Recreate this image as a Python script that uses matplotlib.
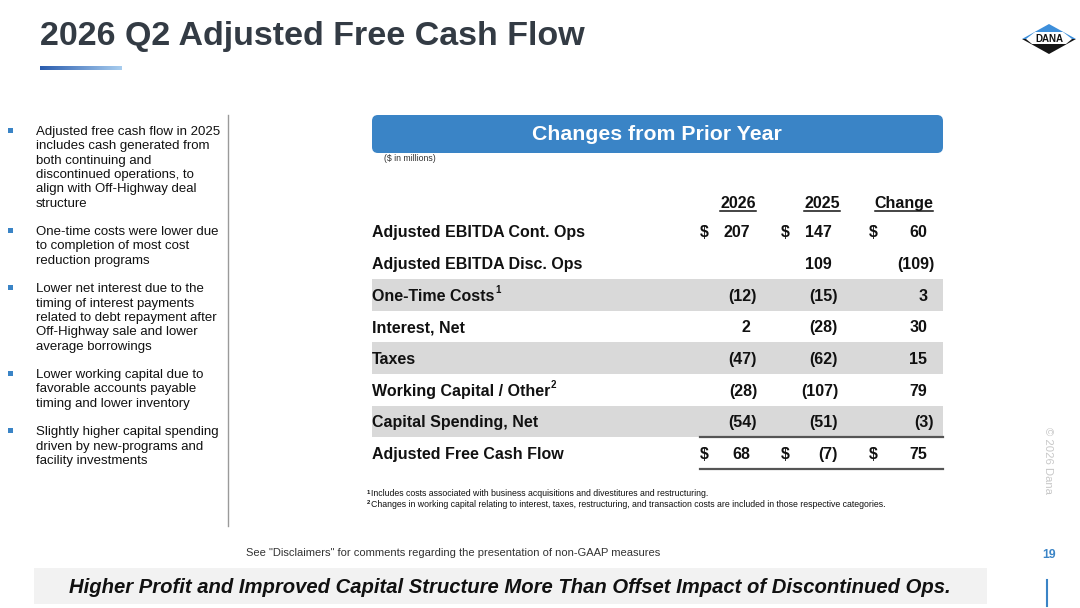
import matplotlib
matplotlib.use("Agg")
import matplotlib.pyplot as plt
from matplotlib.patches import FancyBboxPatch, Rectangle, Polygon
from matplotlib.colors import LinearSegmentedColormap
import numpy as np

# ---------------- data ----------------
title = "2026 Q2 Adjusted Free Cash Flow"
header = "Changes from Prior Year"
units = "($ in millions)"
col_headers = ["2026", "2025", "Change"]
row_labels = ["Adjusted EBITDA Cont. Ops", "Adjusted EBITDA Disc. Ops", "One-Time Costs",
              "Interest, Net", "Taxes", "Working Capital / Other", "Capital Spending, Net",
              "Adjusted Free Cash Flow"]
row_sup = ["", "", "1", "", "", "2", "", ""]
vals_2026 = [207, None, -12, 2, -47, -28, -54, 68]
vals_2025 = [147, 109, -15, -28, -62, -107, -51, -7]
vals_change = [60, -109, 3, 30, 15, 79, -3, 75]
dollar_rows = [0, 7]
shaded_rows = [2, 4, 6]
bullets = [
    ["Adjusted free cash flow in 2025", "includes cash generated from", "both continuing and",
     "discontinued operations, to", "align with Off-Highway deal", "structure"],
    ["One-time costs were lower due", "to completion of most cost", "reduction programs"],
    ["Lower net interest due to the", "timing of interest payments", "related to debt repayment after",
     "Off-Highway sale and lower", "average borrowings"],
    ["Lower working capital due to", "favorable accounts payable", "timing and lower inventory"],
    ["Slightly higher capital spending", "driven by new-programs and", "facility investments"],
]
footnotes = [("1", "Includes costs associated with business acquisitions and divestitures and restructuring."),
             ("2", "Changes in working capital relating to interest, taxes, restructuring, and transaction costs are included in those respective categories.")]
disclaimer = 'See "Disclaimers" for comments regarding the presentation of non-GAAP measures'
banner = "Higher Profit and Improved Capital Structure More Than Offset Impact of Discontinued Ops."
page_num = "19"
copyright_txt = "© 2026 Dana"

# ---------------- style ----------------
FONT = ["Liberation Sans", "DejaVu Sans"]
plt.rcParams["font.family"] = FONT
DARK = "#333b44"
BLUE = "#3a84c6"
INK = "#111111"

fig = plt.figure(figsize=(10.8, 6.08), dpi=100)
ax = fig.add_axes([0, 0, 1, 1])
ax.set_xlim(0, 1080)
ax.set_ylim(608, 0)
ax.axis("off")
fig.canvas.draw()
r = fig.canvas.get_renderer()
inv = ax.transData.inverted()


def xextent(t):
    bb = t.get_window_extent(r)
    (x0, _), (x1, _) = inv.transform([[bb.x0, 0], [bb.x1, 0]])
    return x0, x1


# title
ax.text(40, 45.5, title, fontsize=24.5, fontweight="bold", color=DARK, va="baseline", ha="left")
grad = np.linspace(0, 1, 256).reshape(1, -1)
cm = LinearSegmentedColormap.from_list("g", ["#2a5cae", "#a8cdef"])
ax.imshow(grad, extent=[40, 122, 70, 66], cmap=cm, aspect="auto", zorder=2)

# logo
cx, cy, hw, hh = 1049, 39, 27, 15
ax.add_patch(Polygon([[cx - hw, cy], [cx, cy - hh], [cx + hw, cy]], closed=True, color="#3d8fdb", lw=0))
ax.add_patch(Polygon([[cx - hw, cy], [cx, cy + hh], [cx + hw, cy]], closed=True, color="#151515", lw=0))
ax.add_patch(Polygon([[cx - 14, cy - 7], [cx + 14, cy - 7], [cx + 23, cy], [cx + 17, cy + 5],
                      [cx - 17, cy + 5], [cx - 23, cy]], closed=True, color="white", lw=0))
ax.text(cx, cy + 3.2, "DANA", fontsize=7, fontweight="bold", color=INK, ha="center", va="baseline")

# left bullets
line_h = 14.3
y = 135
for para in bullets:
    ax.add_patch(Rectangle((8, y - 7), 4.5, 4.5, color=BLUE, lw=0))
    for ln in para:
        ax.text(36, y, ln, fontsize=9.5, color=INK, va="baseline", ha="left")
        y += line_h
    y += line_h
ax.plot([228, 228], [115, 526], color="#9a9a9a", lw=1)

# header box
ax.add_patch(FancyBboxPatch((372, 115), 571, 38, boxstyle="round,pad=0,rounding_size=6",
                            fc=BLUE, ec="none"))
ax.text(657, 140.5, header, fontsize=15.3, fontweight="bold", color="white", ha="center", va="baseline")
ax.text(384, 161, units, fontsize=6.3, color="#333333", ha="left", va="baseline")

# column headers
FS = 11.5
col_centers = [738, 822, 904]
for c, h in zip(col_centers, col_headers):
    t = ax.text(c, 208, h, fontsize=FS, fontweight="bold", color=INK, ha="center", va="baseline")
    x0, x1 = xextent(t)
    ax.plot([x0, x1], [211, 211], color=INK, lw=1.1)

# rows
row_y0 = 215.5
row_h = 31.7
col_right = [757, 838, 934]
dollar_x = [704, 785, 873]
paren_off = 6.5


def fmt(v):
    if v is None:
        return ""
    return f"({abs(v)})" if v < 0 else f"{v}"


for i, lab in enumerate(row_labels):
    yc = row_y0 + row_h * (i + 0.5)
    yb = yc + 5.8
    if i in shaded_rows:
        ax.add_patch(Rectangle((372, row_y0 + row_h * i), 571, row_h, color="#d9d9d9", lw=0, zorder=0))
    tl = ax.text(372, yb, lab, fontsize=FS, fontweight="bold", color=INK, ha="left", va="baseline")
    if row_sup[i]:
        xe = xextent(tl)[1]
        ax.text(xe + 0.5, yb - 8, row_sup[i], fontsize=7, fontweight="bold", color=INK,
                ha="left", va="baseline")
    for j, vals in enumerate([vals_2026, vals_2025, vals_change]):
        v = vals[i]
        s = fmt(v)
        if not s:
            continue
        xr = col_right[j] - (0 if v < 0 else paren_off)
        ax.text(xr, yb, s, fontsize=FS, fontweight="bold", color=INK, ha="right", va="baseline")
        if i in dollar_rows:
            ax.text(dollar_x[j], yb, "$", fontsize=FS, fontweight="bold", color=INK,
                    ha="center", va="baseline")

line_top = row_y0 + row_h * 7
ax.plot([700, 943], [line_top, line_top], color="#555555", lw=1.6)
ax.plot([700, 943], [line_top + row_h, line_top + row_h], color="#555555", lw=1.6)

# footnotes
for k, (n, t) in enumerate(footnotes):
    yb = 496 + 11 * k
    ax.text(366.5, yb - 2.5, n, fontsize=4.3, fontweight="bold", color=INK, ha="left", va="baseline")
    ax.text(371, yb, t, fontsize=6.3, color=INK, ha="left", va="baseline")

# disclaimer + page number
ax.text(453, 556, disclaimer, fontsize=8, color="#333333", ha="center", va="baseline")
ax.text(1049, 558, page_num, fontsize=8.8, fontweight="bold", color=BLUE, ha="center", va="baseline")

# bottom banner
ax.add_patch(Rectangle((34, 568), 953, 36, color="#f2f2f2", lw=0))
ax.text(510, 593, banner, fontsize=14.6, fontweight="bold", style="italic", color=INK,
        ha="center", va="baseline")
ax.plot([1047, 1047], [580, 606], color=BLUE, lw=1.5)

# copyright vertical
ax.text(1048, 460, copyright_txt, fontsize=8.1, color="#c8c8c8", rotation=-90,
        ha="center", va="center")

fig.savefig("out.png", dpi=100)
